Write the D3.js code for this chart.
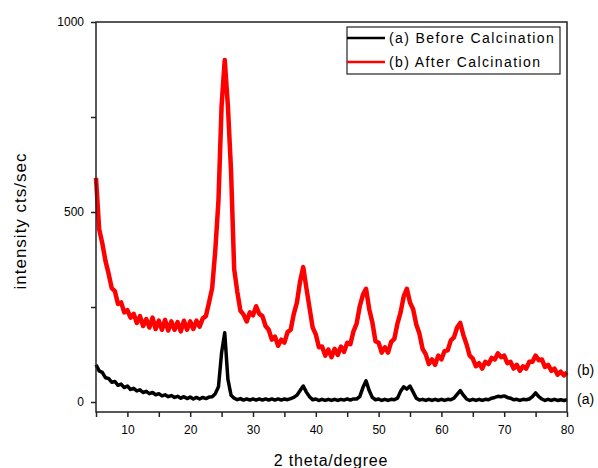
<!DOCTYPE html>
<html>
<head>
<meta charset="utf-8">
<style>
    body { margin: 0; background: #fff; }
    text { font-family: "Liberation Sans", Arial, sans-serif; fill: #000; }
</style>
</head>
<body>
<div id="chart"></div>

<script src="https://d3js.org/d3.v7.min.js"></script>
<script>

    // 2 theta positions of the sampled points (degree)
    var twoTheta = [
        5, 5.5, 6, 6.5, 7, 7.5, 8, 8.5, 9, 9.5,
        10, 10.5, 11, 11.5, 12, 12.5, 13, 13.5, 14, 14.5,
        15, 15.5, 16, 16.5, 17, 17.5, 18, 18.5, 19, 19.5,
        20, 20.5, 21, 21.5, 22, 22.5, 23, 23.5, 24, 24.5,
        25, 25.5, 26, 26.5, 27, 27.5, 28, 28.5, 29, 29.5,
        30, 30.5, 31, 31.5, 32, 32.5, 33, 33.5, 34, 34.5,
        35, 35.5, 36, 36.5, 37, 37.5, 38, 38.5, 39, 39.5,
        40, 40.5, 41, 41.5, 42, 42.5, 43, 43.5, 44, 44.5,
        45, 45.5, 46, 46.5, 47, 47.5, 48, 48.5, 49, 49.5,
        50, 50.5, 51, 51.5, 52, 52.5, 53, 53.5, 54, 54.5,
        55, 55.5, 56, 56.5, 57, 57.5, 58, 58.5, 59, 59.5,
        60, 60.5, 61, 61.5, 62, 62.5, 63, 63.5, 64, 64.5,
        65, 65.5, 66, 66.5, 67, 67.5, 68, 68.5, 69, 69.5,
        70, 70.5, 71, 71.5, 72, 72.5, 73, 73.5, 74, 74.5,
        75, 75.5, 76, 76.5, 77, 77.5, 78, 78.5, 79, 79.5,
        80
    ];

    // (a) before calcination, cts/sec
    var beforeCalc = [
        98, 82, 78, 64, 62, 52, 54, 44, 47, 38,
        42, 33, 36, 29, 32, 25, 28, 22, 25, 19,
        22, 16, 19, 14, 17, 12, 15, 10, 14, 9,
        13, 8, 12, 8, 12, 9, 13, 14, 22, 40,
        130, 182, 60, 18, 10, 6, 9, 5, 8, 5,
        8, 5, 8, 5, 8, 5, 8, 5, 8, 5,
        8, 6, 9, 12, 18, 30, 42, 26, 14, 6,
        8, 4, 7, 4, 7, 4, 7, 4, 7, 5,
        8, 5, 8, 8, 14, 38, 56, 30, 12, 6,
        8, 4, 7, 4, 7, 6, 10, 28, 40, 34,
        42, 26, 10, 5, 7, 4, 7, 4, 7, 4,
        7, 4, 7, 6, 10, 20, 30, 18, 8, 4,
        7, 4, 7, 4, 7, 6, 10, 12, 15, 14,
        16, 12, 10, 6, 7, 4, 7, 6, 8, 14,
        24, 14, 8, 4, 7, 4, 7, 4, 6, 4,
        6
    ];

    // (b) after calcination, cts/sec
    var afterCalc = [
        590, 455, 418, 372, 338, 300, 292, 258, 262, 236,
        242, 222, 232, 208, 226, 200, 218, 196, 222, 192,
        214, 190, 216, 188, 212, 190, 210, 186, 214, 190,
        212, 192, 214, 198, 220, 226, 262, 300, 400, 530,
        780, 900, 780, 610, 350, 290, 240, 230, 212, 236,
        228, 252, 232, 226, 200, 190, 164, 172, 148, 164,
        156, 184, 190, 232, 262, 318, 355, 300, 248, 196,
        178, 144, 146, 122, 138, 118, 140, 124, 146, 132,
        156, 152, 186, 206, 252, 282, 298, 245, 210, 160,
        156, 130, 144, 130, 158, 166, 206, 236, 278, 298,
        262, 244, 204, 180, 140, 126, 100, 112, 98, 122,
        112, 134, 136, 162, 170, 196, 208, 176, 152, 122,
        114, 94, 102, 88, 106, 100, 116, 112, 128, 118,
        122, 102, 106, 88, 98, 82, 94, 88, 106, 106,
        122, 110, 112, 92, 98, 82, 88, 72, 80, 70,
        78
    ];

    var xTicks = [10, 20, 30, 40, 50, 60, 70, 80];
    var yTicks = [0, 500, 1000];
    var legendLabels = ["(a) Before Calcination", "(b) After Calcination"];
    var seriesTags = ["(a)", "(b)"];

    var width = 598, height = 468;
    var plotLeft = 96, plotRight = 567, plotTop = 22, plotBottom = 412;

    var x = d3.scaleLinear().domain([5, 80]).range([plotLeft, plotRight]);
    var y = d3.scaleLinear().domain([0, 1000]).range([402, plotTop]);

    var svg = d3.select("#chart")
        .append("svg")
        .attr("width", width)
        .attr("height", height);

    svg.append("rect")
        .attr("width", width)
        .attr("height", height)
        .attr("fill", "#fff");

    // curves
    var line = d3.line()
        .x(function(d) { return x(d[0]); })
        .y(function(d) { return y(d[1]); });

    var series = [
        { tag: seriesTags[0], color: "#000", values: beforeCalc, w: 3.5 },
        { tag: seriesTags[1], color: "#ff0000", values: afterCalc, w: 4.5 }
    ];

    series.forEach(function(s) {
        svg.append("path")
            .datum(twoTheta.map(function(t, i) { return [t, s.values[i]]; }))
            .attr("d", line)
            .attr("fill", "none")
            .attr("stroke", s.color)
            .attr("stroke-width", s.w)
            .attr("stroke-linejoin", "round");
    });

    // frame
    svg.append("rect")
        .attr("x", plotLeft)
        .attr("y", plotTop)
        .attr("width", plotRight - plotLeft)
        .attr("height", plotBottom - plotTop)
        .attr("fill", "none")
        .attr("stroke", "#222")
        .attr("stroke-width", 1.5);

    // x axis
    var xAxis = svg.append("g")
        .attr("transform", "translate(0," + plotBottom + ")")
        .call(d3.axisBottom(x)
            .tickValues([5, 10, 15, 20, 25, 30, 35, 40, 45, 50, 55, 60, 65, 70, 75, 80])
            .tickSize(5)
            .tickFormat(function(d) { return xTicks.indexOf(d) >= 0 ? d : ""; }));
    xAxis.select(".domain").remove();
    xAxis.selectAll("line").attr("stroke", "#222").attr("stroke-width", 1.5);
    xAxis.selectAll("text")
        .attr("y", 13)
        .attr("dy", "0.71em")
        .style("font-size", "12px")
        .style("font-family", "'Liberation Sans', Arial, sans-serif");

    // y axis
    var yAxis = svg.append("g")
        .attr("transform", "translate(" + plotLeft + ",0)")
        .call(d3.axisLeft(y)
            .tickValues([0, 250, 500, 750, 1000])
            .tickSize(5)
            .tickFormat(function(d) { return yTicks.indexOf(d) >= 0 ? d : ""; }));
    yAxis.select(".domain").remove();
    yAxis.selectAll("line").attr("stroke", "#222").attr("stroke-width", 1.5);
    yAxis.selectAll("text")
        .attr("x", -12)
        .style("font-size", "12px")
        .style("font-family", "'Liberation Sans', Arial, sans-serif");

    // axis titles
    svg.append("text")
        .attr("x", 331)
        .attr("y", 466)
        .attr("text-anchor", "middle")
        .style("font-size", "16px")
        .style("letter-spacing", "0.8px")
        .text("2 theta/degree");

    svg.append("text")
        .attr("transform", "translate(26,221) rotate(-90)")
        .attr("text-anchor", "middle")
        .style("font-size", "17px")
        .style("letter-spacing", "1px")
        .text("intensity cts/sec");

    // legend
    var legend = svg.append("g");
    legend.append("rect")
        .attr("x", 347)
        .attr("y", 27)
        .attr("width", 213)
        .attr("height", 47)
        .attr("fill", "#fff")
        .attr("stroke", "#222")
        .attr("stroke-width", 1.2);

    var items = legend.selectAll("g.item")
        .data(series)
        .enter()
        .append("g")
        .attr("transform", function(d, i) { return "translate(347," + (38 + i * 24) + ")"; });

    items.append("line")
        .attr("x1", 0)
        .attr("x2", 38)
        .attr("stroke", function(d) { return d.color; })
        .attr("stroke-width", 2.5);

    items.append("text")
        .attr("x", 42)
        .attr("dy", "0.36em")
        .style("font-size", "14px")
        .style("letter-spacing", "1.4px")
        .text(function(d, i) { return legendLabels[i]; });

    // curve tags on the right
    svg.selectAll("text.tag")
        .data(series)
        .enter()
        .append("text")
        .attr("class", "tag")
        .attr("x", 577)
        .attr("y", function(d, i) { return i === 0 ? 399 : 370; })
        .attr("dy", "0.36em")
        .style("font-size", "14px")
        .text(function(d) { return d.tag; });

</script>
</body>
</html>
